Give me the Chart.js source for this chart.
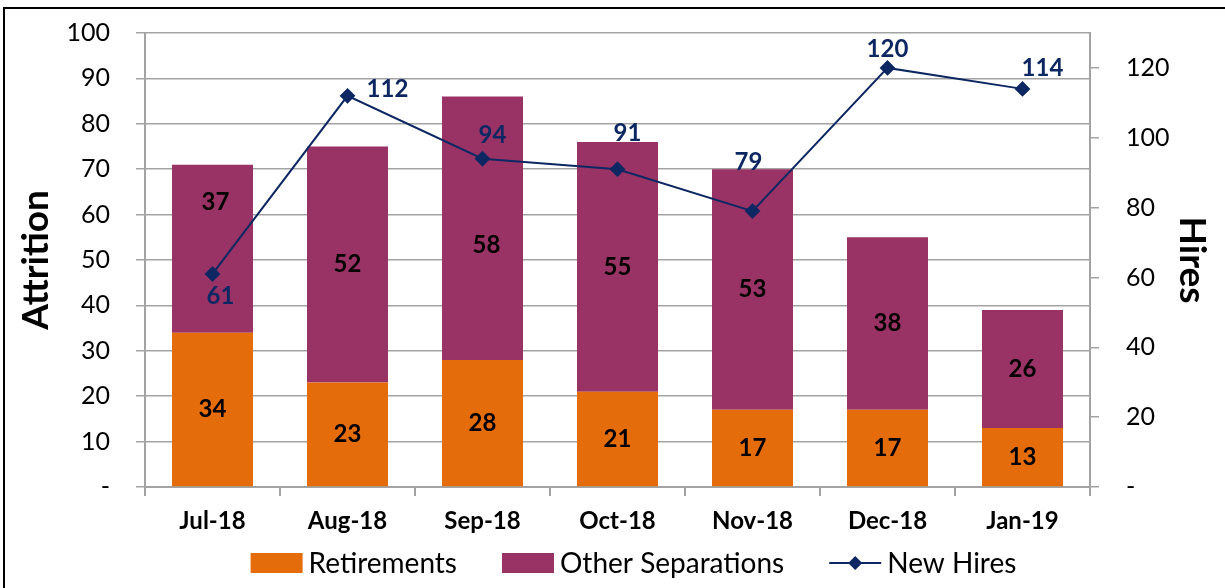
<!DOCTYPE html>
<html>
<head>
<meta charset="utf-8">
<script src="https://cdn.jsdelivr.net/npm/chart.js@4"></script>
<style>
    html, body { margin: 0; padding: 0; background: #fff; overflow: hidden; }
</style>
</head>
<body>
<canvas id="chart" width="1225" height="588"></canvas>
<script>
/* === DATA === */
const months = ['Jul-18', 'Aug-18', 'Sep-18', 'Oct-18', 'Nov-18', 'Dec-18', 'Jan-19'];
const retirements = [34, 23, 28, 21, 17, 17, 13];
const otherSeparations = [37, 52, 58, 55, 53, 38, 26];
const newHires = [61, 112, 94, 91, 79, 120, 114];

// hand-placed label nudges (px), as in the original Excel chart
const otherLabelOffsets = [[3, -46], [0, 0], [4, 17], [0, 0], [0, 0], [0, 0], [0, 0]];
const hireLabelOffsets = [[8, 22], [40, -7], [10, -23], [10, -36], [-4, -49], [0, -19], [20, -21]];

const ORANGE = '#E46C0A';
const PLUM = '#993366';
const NAVY = '#0D2762';
const GRID = '#A3A3A3';

Chart.defaults.font.family = 'Lato';
Chart.defaults.color = '#000';

function dashZero(value) {
    return value === 0 ? '-' : value;
}

// keep the plot box where the Excel one is: no extra room for half tick labels
function noScalePadding(scale) {
    scale.paddingTop = 0;
    scale.paddingBottom = 0;
}

/* === PLUGINS === */
const frame = {
    id: 'frame',
    beforeDraw(chart) {
        const ctx = chart.ctx;
        ctx.save();
        ctx.fillStyle = '#fff';
        ctx.fillRect(0, 0, chart.width, chart.height);
        ctx.strokeStyle = '#000';
        ctx.lineWidth = 2;
        ctx.strokeRect(4, 8, 1300, 700);
        ctx.restore();
    }
};

const valueLabels = {
    id: 'valueLabels',
    afterDatasetsDraw(chart) {
        const ctx = chart.ctx;
        ctx.save();
        ctx.font = 'bold 24px Lato';
        ctx.textAlign = 'center';
        ctx.textBaseline = 'middle';
        chart.data.datasets.forEach((ds, i) => {
            const meta = chart.getDatasetMeta(i);
            meta.data.forEach((el, j) => {
                const v = ds.data[j];
                if (ds.type === 'bar') {
                    const off = ds.label === 'Other Separations' ? otherLabelOffsets[j] : [0, 0];
                    ctx.fillStyle = '#000';
                    ctx.fillText(v, el.x + off[0], (el.y + el.base) / 2 + off[1]);
                } else {
                    const off = hireLabelOffsets[j];
                    ctx.fillStyle = NAVY;
                    ctx.fillText(v, el.x + off[0], el.y + off[1]);
                }
            });
        });
        ctx.restore();
    }
};

// Excel-style legend below the axis: swatch, short gap, text
const bottomLegend = {
    id: 'bottomLegend',
    afterDraw(chart) {
        const ctx = chart.ctx;
        const area = chart.chartArea;
        const cy = area.bottom + 76;
        const boxW = 52, boxH = 20, gap = 6, spacing = 45;
        ctx.save();
        ctx.font = '28px Lato';
        ctx.textBaseline = 'middle';
        ctx.textAlign = 'left';
        const items = chart.data.datasets.map(ds => ({ ds, w: ctx.measureText(ds.label).width }));
        const total = items.reduce((s, it) => s + boxW + gap + it.w, 0) + spacing * (items.length - 1);
        let x = (area.left + area.right) / 2 + 16 - total / 2;
        items.forEach(it => {
            const ds = it.ds;
            if (ds.type === 'bar') {
                ctx.fillStyle = ds.backgroundColor;
                ctx.fillRect(x, cy - boxH / 2, boxW, boxH);
            } else {
                ctx.strokeStyle = ds.borderColor;
                ctx.lineWidth = 2;
                ctx.beginPath();
                ctx.moveTo(x, cy);
                ctx.lineTo(x + boxW, cy);
                ctx.stroke();
                const cx = x + boxW / 2, r = 7;
                ctx.fillStyle = ds.pointBackgroundColor;
                ctx.beginPath();
                ctx.moveTo(cx - r, cy);
                ctx.lineTo(cx, cy - r);
                ctx.lineTo(cx + r, cy);
                ctx.lineTo(cx, cy + r);
                ctx.closePath();
                ctx.fill();
            }
            ctx.fillStyle = '#000';
            ctx.fillText(ds.label, x + boxW + gap, cy + 1);
            x += boxW + gap + it.w + spacing;
        });
        ctx.restore();
    }
};

/* === CHART === */
const ctx = document.getElementById('chart').getContext('2d');
new Chart(ctx, {
    data: {
        labels: months,
        datasets: [
            {
                type: 'bar',
                label: 'Retirements',
                data: retirements,
                backgroundColor: ORANGE,
                yAxisID: 'y',
                order: 1,
                barPercentage: 0.6,
                categoryPercentage: 1
            },
            {
                type: 'bar',
                label: 'Other Separations',
                data: otherSeparations,
                backgroundColor: PLUM,
                yAxisID: 'y',
                order: 1,
                barPercentage: 0.6,
                categoryPercentage: 1
            },
            {
                type: 'line',
                label: 'New Hires',
                data: newHires,
                yAxisID: 'y1',
                order: 0,
                borderColor: NAVY,
                borderWidth: 2,
                pointStyle: 'rectRot',
                pointRadius: 6.5,
                pointBackgroundColor: NAVY,
                pointBorderColor: NAVY,
                tension: 0
            }
        ]
    },
    options: {
        responsive: false,
        animation: false,
        devicePixelRatio: 1,
        layout: { padding: { left: 8, right: 8, top: 33, bottom: 41 } },
        plugins: {
            tooltip: { enabled: false },
            legend: { display: false }
        },
        scales: {
            x: {
                stacked: true,
                grid: {
                    display: true,
                    drawOnChartArea: false,
                    drawTicks: true,
                    tickLength: 9,
                    offset: true,
                    color: GRID,
                    lineWidth: 2
                },
                border: { color: GRID, width: 2 },
                ticks: {
                    color: '#000',
                    font: { size: 24, weight: 'bold' },
                    padding: 11,
                    maxRotation: 0,
                    autoSkip: false
                },
                afterFit(scale) {
                    scale.height = 60;
                    scale.paddingLeft = 0;
                    scale.paddingRight = 0;
                }
            },
            y: {
                stacked: true,
                position: 'left',
                min: 0,
                max: 100,
                ticks: {
                    stepSize: 10,
                    callback: dashZero,
                    color: '#000',
                    font: { size: 25 },
                    padding: 26
                },
                grid: { color: GRID, lineWidth: 1.5, tickLength: 9 },
                border: { color: GRID, width: 2 },
                title: {
                    display: true,
                    text: 'Attrition',
                    color: '#000',
                    font: { size: 37, weight: 'bold' },
                    padding: { top: 6, bottom: 0 }
                },
                afterFit(scale) {
                    scale.width = 137;
                    noScalePadding(scale);
                }
            },
            y1: {
                position: 'right',
                min: 0,
                max: 130,
                ticks: {
                    stepSize: 20,
                    includeBounds: false,
                    callback: dashZero,
                    color: '#000',
                    font: { size: 25 },
                    padding: 27
                },
                grid: { drawOnChartArea: false, color: GRID, lineWidth: 1.5, tickLength: 9 },
                border: { color: GRID, width: 2 },
                title: {
                    display: true,
                    text: 'Hires',
                    color: '#000',
                    font: { size: 37, weight: 'bold' },
                    padding: { top: 3, bottom: 0 }
                },
                afterFit(scale) {
                    scale.width = 127;
                    noScalePadding(scale);
                }
            }
        }
    },
    plugins: [frame, valueLabels, bottomLegend]
});
</script>
</body>
</html>
